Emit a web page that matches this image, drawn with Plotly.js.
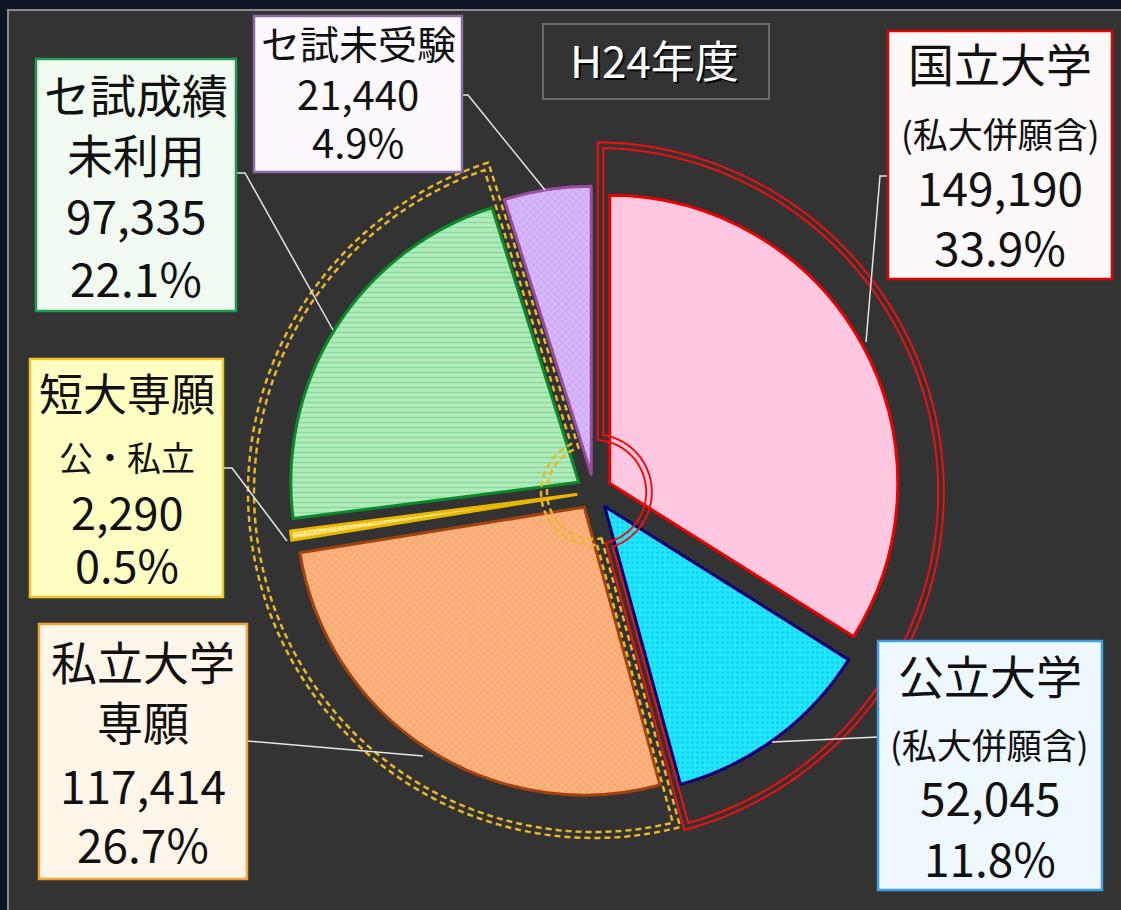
<!DOCTYPE html>
<html>
<head>
<meta charset="utf-8">
<script src="https://cdn.plot.ly/plotly-3.0.1.min.js"></script>
<style>html,body{margin:0;padding:0;background:#0e1424;}#chart{width:1121px;height:910px;}</style>
</head>
<body>
<div id="chart"></div>
<script>
// ---------------- DATA ----------------
const categories = ['国立大学', '公立大学', '私立大学専願', '短大専願', 'セ試成績未利用', 'セ試未受験'];
const counts = [149190, 52045, 117414, 2290, 97335, 21440];
const labelHeads = [
  ['国立大学', '(私大併願含)'],
  ['公立大学', '(私大併願含)'],
  ['私立大学', '専願'],
  ['短大専願', '公・私立'],
  ['セ試成績', '未利用'],
  ['セ試未受験']
];
const yearTitle = 'H24年度';

// ---------------- STYLE ----------------
const W = 1121, H = 910;
const sliceColors = ['#ffc8e0', '#22e6fb', '#fbb47f', '#ffe680', '#b2ecbd', '#d8b8fb'];
const borderColors = ['#ee0000', '#00007a', '#a3420e', '#e8b800', '#0a8a28', '#9a4c9e'];
const patternShapes = ['', '.', 'x', '.', '-', 'x'];
const patternFg = ['#ffc8e0', '#00bfe6', '#e98a4c', '#e8c040', '#5cc878', '#b48ae8'];
const PULL = 0.0625;
const CX = 594, CY = 492, RTOT = 306;   // pie box centre & half size (px)
const TEXT_SHIFT = -4;

const boxes = [
  {r: [888, 31, 1112, 279], bg: '#fdf8f9', bd: '#e30000', ys: [66, 136, 190, 250], fs: [46, 35, 46, 46]},
  {r: [878, 641, 1102, 890], bg: '#eef8fe', bd: '#3b9fe3', ys: [678, 747, 800, 861], fs: [46, 35, 46, 46]},
  {r: [39, 624, 247, 879], bg: '#fff6ea', bd: '#f0a43a', ys: [664, 724, 788, 847], fs: [46, 46, 46, 46]},
  {r: [30, 359, 223, 597], bg: '#ffffc4', bd: '#f2c62a', ys: [396, 460, 514, 567], fs: [44, 34, 45, 45]},
  {r: [36, 59, 236, 311], bg: '#f0faf0', bd: '#1f9c52', ys: [97, 157, 218, 281], fs: [46, 46, 46, 46]},
  {r: [254, 16, 462, 172], bg: '#fcf8fd', bd: '#8a6aaa', ys: [46, 97, 145], fs: [39, 40, 40]}
];
const leaders = [
  [[888, 176], [880, 176], [866, 342]],
  [[878, 737], [772, 742]],
  [[247, 741], [423, 756]],
  [[223, 468], [232, 468], [287, 541]],
  [[236, 173], [245, 173], [333, 330]],
  [[462, 95], [468, 95], [545, 190]]
];
const FONT = '"Noto Sans CJK JP", "Noto Sans", sans-serif';

// ---------------- HELPERS ----------------
const px = x => x / W;
const py = y => 1 - y / H;
const total = counts.reduce((a, b) => a + b, 0);
const countText = counts.map(v => v.toLocaleString('en-US'));
const pctText = counts.map(v => (v / total * 100).toFixed(1) + '%');

const R = RTOT / (1 + PULL);
const D = PULL * R;
let acc = 0;
const starts = [], ends = [], mids = [];
counts.forEach(v => { starts.push(acc / total * 360); acc += v; ends.push(acc / total * 360); mids.push((starts[starts.length-1] + ends[ends.length-1]) / 2); });

const u = th => { const r = th * Math.PI / 180; return [Math.sin(r), -Math.cos(r)]; };
const nr = th => { const r = th * Math.PI / 180; return [Math.cos(r), Math.sin(r)]; };
const add = (a, b, k) => [a[0] + k * b[0], a[1] + k * b[1]];
function gapPoint(i, j) {
  const a = u(mids[i]), b = u(mids[j]);
  return [CX + D * (a[0] + b[0]) / 2, CY + D * (a[1] + b[1]) / 2];
}
function lineCircle(P, dir, rho) {
  const w = [P[0] - CX, P[1] - CY];
  const wu = w[0] * dir[0] + w[1] * dir[1];
  const ww = w[0] * w[0] + w[1] * w[1];
  const t = -wu + Math.sqrt(wu * wu - ww + rho * rho);
  return add(P, dir, t);
}
function angleOf(p, near) {
  let a = Math.atan2(p[0] - CX, CY - p[1]) * 180 / Math.PI;
  while (a - near > 180) a -= 360;
  while (a - near < -180) a += 360;
  return a;
}
function arc(rho, a0, a1) {
  const pts = [];
  const n = Math.max(2, Math.ceil(Math.abs(a1 - a0) / 1.5));
  for (let k = 0; k <= n; k++) {
    const a = a0 + (a1 - a0) * k / n;
    const d = u(a);
    pts.push([CX + rho * d[0], CY + rho * d[1]]);
  }
  return pts;
}
function region(bs, Ps, be, Pe, Ro, Ri, s) {
  const P1 = add(Ps, nr(bs), -s), P2 = add(Pe, nr(be), s);
  const ro = Ro + s, ri = Ri - s;
  const A = lineCircle(P1, u(bs), ro), Ai = lineCircle(P1, u(bs), ri);
  const B = lineCircle(P2, u(be), ro), Bi = lineCircle(P2, u(be), ri);
  const pts = [Ai, A].concat(arc(ro, angleOf(A, bs), angleOf(B, be)), [B, Bi], arc(ri, angleOf(Bi, be), angleOf(Ai, bs)));
  return 'M' + pts.map(p => px(p[0]).toFixed(5) + ',' + py(p[1]).toFixed(5)).join('L') + 'Z';
}
function polyPath(pts) {
  return 'M' + pts.map(p => px(p[0]).toFixed(5) + ',' + py(p[1]).toFixed(5)).join('L');
}

// ---------------- TRACE ----------------
const trace = {
  type: 'pie',
  labels: categories,
  values: counts,
  sort: false,
  direction: 'clockwise',
  rotation: 0,
  pull: counts.map(() => PULL),
  textinfo: 'none',
  hoverinfo: 'label+value+percent',
  showlegend: false,
  domain: {x: [px(CX - RTOT), px(CX + RTOT)], y: [py(CY + RTOT), py(CY - RTOT)]},
  marker: {
    colors: sliceColors,
    line: {color: borderColors, width: 3},
    pattern: {shape: patternShapes, fgcolor: patternFg, fillmode: 'overlay', size: 5, solidity: 0.3}
  }
};

// ---------------- SHAPES ----------------
const shapes = [];
shapes.push({type: 'rect', xref: 'paper', yref: 'paper', layer: 'below',
  x0: px(8), x1: px(1130), y0: py(920), y1: py(10),
  fillcolor: '#333333', line: {color: '#8c8c8c', width: 2}});

const b0 = starts[0], b2 = ends[1], b5 = ends[4];
const gapA = gapPoint(5, 0), gapB = gapPoint(1, 2), gapC = gapPoint(4, 5);
const redB = add(gapB, nr(b2), -4.5), goldB = add(gapB, nr(b2), 4.5);
[-2.8, 2.8].forEach(s => {
  shapes.push({type: 'path', xref: 'paper', yref: 'paper', layer: 'above',
    path: region(b0, gapA, b2, redB, 347, 55, s), line: {color: '#f01010', width: 2}});
});
[-3, 3].forEach(s => {
  shapes.push({type: 'path', xref: 'paper', yref: 'paper', layer: 'above',
    path: region(b2, goldB, b5, gapC, 343, 50, s), line: {color: '#e9b82a', width: 2.5, dash: '6px,4px'}});
});

leaders.forEach(l => shapes.push({type: 'path', xref: 'paper', yref: 'paper', layer: 'above',
  path: polyPath(l), line: {color: '#e6e6e6', width: 1.5}}));

boxes.forEach(b => shapes.push({type: 'rect', xref: 'paper', yref: 'paper', layer: 'above',
  x0: px(b.r[0]), x1: px(b.r[2]), y0: py(b.r[3]), y1: py(b.r[1]),
  fillcolor: b.bg, line: {color: b.bd, width: 2.5}}));
shapes.push({type: 'rect', xref: 'paper', yref: 'paper', layer: 'above',
  x0: px(543), x1: px(769), y0: py(99), y1: py(24), line: {color: '#6a6a6a', width: 2}});

// ---------------- ANNOTATIONS ----------------
const annotations = [];
boxes.forEach((b, i) => {
  const lines = labelHeads[i].concat([countText[i], pctText[i]]);
  const xc = (b.r[0] + b.r[2]) / 2;
  lines.forEach((t, k) => annotations.push({
    xref: 'paper', yref: 'paper', x: px(xc), y: py(b.ys[k] + TEXT_SHIFT), xanchor: 'center', yanchor: 'middle',
    text: t, showarrow: false, font: {family: FONT, size: b.fs[k], color: '#111111'}
  }));
});
annotations.push({xref: 'paper', yref: 'paper', x: px(656), y: py(61), xanchor: 'center', yanchor: 'middle',
  text: yearTitle, showarrow: false, font: {family: FONT, size: 44, color: '#050505'}});
annotations.push({xref: 'paper', yref: 'paper', x: px(654), y: py(59), xanchor: 'center', yanchor: 'middle',
  text: yearTitle, showarrow: false, font: {family: FONT, size: 44, color: '#ffffff'}});

const layout = {
  width: W, height: H, autosize: false,
  margin: {l: 0, r: 0, t: 0, b: 0, pad: 0},
  paper_bgcolor: '#0e1424',
  plot_bgcolor: '#333333',
  shapes: shapes,
  annotations: annotations
};

Plotly.newPlot('chart', [trace], layout, {displayModeBar: false, staticPlot: true});
</script>
</body>
</html>
